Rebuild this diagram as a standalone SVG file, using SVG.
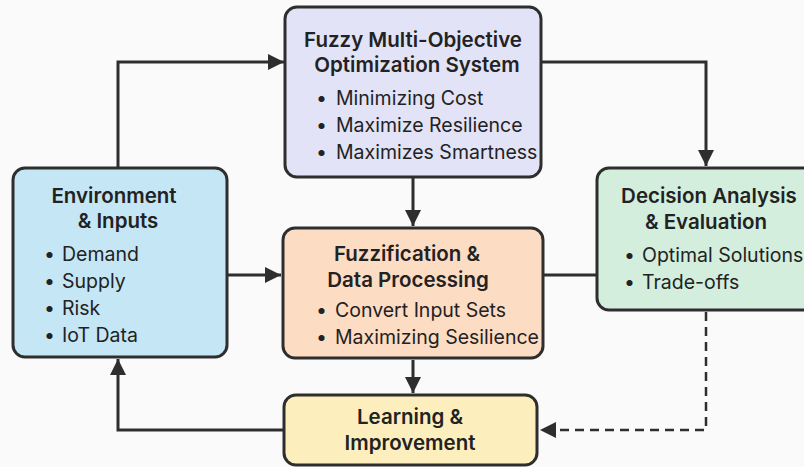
<svg xmlns="http://www.w3.org/2000/svg" width="804" height="467" viewBox="0 0 804 467">
<style>
.box{stroke:#2e2e2e;stroke-width:3}
.t{font-family:Inter,"Liberation Sans",sans-serif;font-weight:600;font-size:20.5px;fill:#222;text-anchor:middle}
.b{font-family:Inter,"Liberation Sans",sans-serif;font-size:19.5px;fill:#222}
.c{fill:none;stroke:#2e2e2e;stroke-width:3}
.d{fill:none;stroke:#2e2e2e;stroke-width:2.5;stroke-dasharray:9 6}
</style>
<defs>
<marker id="a" viewBox="0 0 10 10" refX="10" refY="5" markerWidth="16" markerHeight="16" markerUnits="userSpaceOnUse" orient="auto">
<path d="M0,0 L10,5 L0,10 z" fill="#2e2e2e"/>
</marker>
</defs>
<rect width="804" height="467" fill="#fafafa"/>
<g id="connectors">
<path class="c" d="M118,168 V62 H284" marker-end="url(#a)"/>
<path class="c" d="M542,62 H706 V166" marker-end="url(#a)"/>
<path class="c" d="M413,178 V226" marker-end="url(#a)"/>
<path class="c" d="M228,275 H281" marker-end="url(#a)"/>
<path class="c" d="M543,275 H597"/>
<path class="c" d="M413,360 V393" marker-end="url(#a)"/>
<path class="c" d="M284,430 H118 V359" marker-end="url(#a)"/>
<path class="d" d="M706,312 V430 H540" marker-end="url(#a)"/>
</g>
<g id="optimization">
<rect class="box" x="285" y="7" width="256" height="170" rx="12" fill="#e3e3f7"/>
<text class="t" x="413" y="47">Fuzzy Multi-Objective</text>
<text class="t" x="417" y="72">Optimization System</text>
<text class="b" x="316" y="105">•</text><text class="b" x="336" y="105">Minimizing Cost</text>
<text class="b" x="316" y="132">•</text><text class="b" x="336" y="132">Maximize Resilience</text>
<text class="b" x="316" y="159">•</text><text class="b" x="336" y="159">Maximizes Smartness</text>
</g>
<g id="environment">
<rect class="box" x="13" y="168" width="214" height="189" rx="12" fill="#c5e6f5"/>
<text class="t" x="114" y="203">Environment</text>
<text class="t" x="118" y="228">&amp; Inputs</text>
<text class="b" x="44" y="261">•</text><text class="b" x="62" y="261">Demand</text>
<text class="b" x="44" y="288">•</text><text class="b" x="62" y="288">Supply</text>
<text class="b" x="44" y="315">•</text><text class="b" x="62" y="315">Risk</text>
<text class="b" x="44" y="342">•</text><text class="b" x="62" y="342">IoT Data</text>
</g>
<g id="fuzzification">
<rect class="box" x="283" y="228" width="260" height="130" rx="12" fill="#fddcc4"/>
<text class="t" x="407" y="261">Fuzzification &amp;</text>
<text class="t" x="408" y="287">Data Processing</text>
<text class="b" x="316" y="317">•</text><text class="b" x="335" y="317">Convert Input Sets</text>
<text class="b" x="316" y="344">•</text><text class="b" x="335" y="344">Maximizing Sesilience</text>
</g>
<g id="decision">
<rect class="box" x="597" y="168" width="220" height="142" rx="12" fill="#d3eedd"/>
<text class="t" x="709" y="203">Decision Analysis</text>
<text class="t" x="706" y="229">&amp; Evaluation</text>
<text class="b" x="624" y="262">•</text><text class="b" x="642" y="262">Optimal Solutions</text>
<text class="b" x="624" y="289">•</text><text class="b" x="642" y="289">Trade-offs</text>
</g>
<g id="learning">
<rect class="box" x="284" y="395" width="253" height="70" rx="12" fill="#fcefbd"/>
<text class="t" x="410" y="424">Learning &amp;</text>
<text class="t" x="410" y="450">Improvement</text>
</g>
</svg>
